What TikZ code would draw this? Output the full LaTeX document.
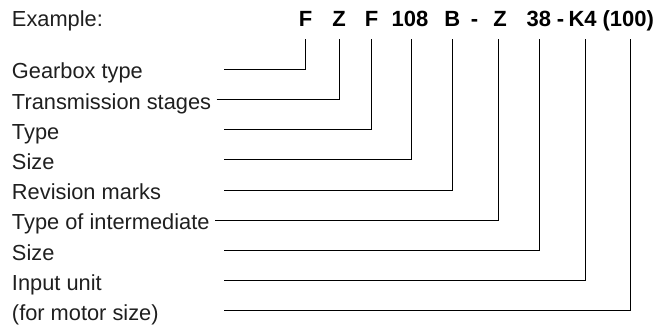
\documentclass[tikz,border=0pt]{standalone}
\usepackage{fontspec}
\setmainfont{Liberation Sans}
\begin{document}
\begin{tikzpicture}[x=1pt,y=-1pt,
  labeltext/.style={anchor=base west,inner sep=0pt,font=\fontsize{21.8}{26}\selectfont,text=black!88},
  codetext/.style={anchor=base,inner sep=0pt,font=\fontsize{22}{26}\selectfont\bfseries},
  conn/.style={draw=black,line width=1pt}]
\useasboundingbox (0,0) rectangle (671,325);

% heading and type designation
\node[labeltext] (ex) at (11.8,26.5) {Example:};
\foreach \name/\xx/\txt in {k1/305.5/F, k2/339/Z, k3/371.6/F, k4/410/108, k5/452.2/B,
    d1/474.5/-, k6/500/Z, k7/538.8/38, d2/560.5/-, k8/582.6/K4, k9/628.3/(100)}
  \node[codetext] (\name) at (\xx,26.5) {\txt};

% upper ends of the leader lines, below each part of the designation
\foreach \i/\xx in {1/305.7, 2/339, 3/371.6, 4/411.7, 5/452.3, 6/498.6, 7/539.3, 8/585.8, 9/630.8}
  \coordinate (t\i) at (\xx,39.3);

% explanations
\node[labeltext] (l1) at (11.8,78.8)  {Gearbox type};
\node[labeltext] (l2) at (11.8,109.0) {Transmission stages};
\node[labeltext] (l3) at (11.8,139.2) {Type};
\node[labeltext] (l4) at (11.8,169.4) {Size};
\node[labeltext] (l5) at (11.8,199.6) {Revision marks};
\node[labeltext] (l6) at (11.8,229.8) {Type of intermediate};
\node[labeltext] (l7) at (11.8,260.0) {Size};
\node[labeltext] (l8) at (11.8,290.2) {Input unit};
\node[labeltext] (l9) at (11.8,320.4) {(for motor size)};

% left ends of the leader lines
\coordinate (s1) at (224,69.3);
\coordinate (s2) at (216.6,99.5);
\coordinate (s3) at (224,129.7);
\coordinate (s4) at (224,159.9);
\coordinate (s5) at (224,190.1);
\coordinate (s6) at (215.2,220.3);
\coordinate (s7) at (224,250.5);
\coordinate (s8) at (224,280.7);
\coordinate (s9) at (224,310.9);

\foreach \i in {1,...,9}
  \draw[conn] (s\i) -| (t\i);
\end{tikzpicture}
\end{document}
